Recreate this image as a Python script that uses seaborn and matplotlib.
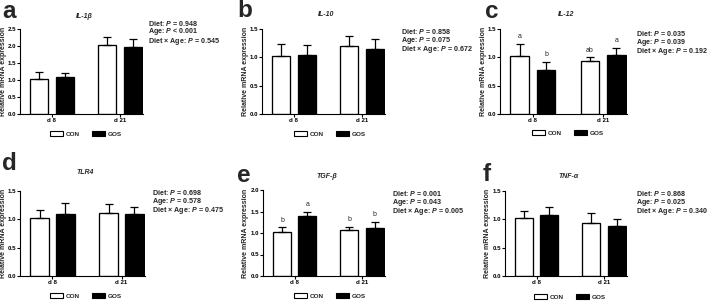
import matplotlib
matplotlib.use('Agg')
import matplotlib.pyplot as plt
import seaborn as sns
import pandas as pd
from matplotlib.patches import Patch

sns.set_theme(style='ticks')
plt.rcParams['font.family'] = ['Liberation Sans', 'DejaVu Sans']
plt.rcParams['font.weight'] = 'bold'
plt.rcParams['mathtext.fontset'] = 'custom'
plt.rcParams['mathtext.it'] = 'Liberation Sans:italic:bold'
plt.rcParams['mathtext.rm'] = 'Liberation Sans:bold'
plt.rcParams['mathtext.bf'] = 'Liberation Sans:bold'

# ---------------- data ----------------
panel_letters = ['a', 'b', 'c', 'd', 'e', 'f']
genes = ['IL-1β', 'IL-10', 'IL-12', 'TLR4', 'TGF-β', 'TNF-α']
ages = ['d 8', 'd 21']
diets = ['CON', 'GOS']
con_mean = [[1.02, 2.02], [1.02, 1.195], [1.03, 0.94], [1.02, 1.11], [1.02, 1.06], [1.02, 0.93]]
gos_mean = [[1.08, 1.97], [1.04, 1.15], [0.78, 1.04], [1.10, 1.09], [1.39, 1.11], [1.08, 0.88]]
con_sem = [[0.21, 0.25], [0.22, 0.185], [0.20, 0.06], [0.15, 0.16], [0.11, 0.09], [0.13, 0.18]]
gos_sem = [[0.12, 0.25], [0.17, 0.18], [0.14, 0.13], [0.18, 0.13], [0.11, 0.15], [0.13, 0.13]]
con_letters = [None, None, ['a', 'ab'], None, ['b', 'b'], None]
gos_letters = [None, None, ['b', 'a'], None, ['a', 'b'], None]
diet_p = ['= 0.948', '= 0.858', '= 0.035', '= 0.698', '= 0.001', '= 0.868']
age_p = ['< 0.001', '= 0.075', '= 0.039', '= 0.578', '= 0.043', '= 0.025']
inter_p = ['= 0.545', '= 0.672', '= 0.192', '= 0.475', '= 0.005', '= 0.340']
y_max = [2.5, 1.5, 1.5, 1.5, 2.0, 1.5]

# ---------------- layout (pixels) ----------------
W, H = 709, 301
boxes = [(20, 143, 29, 114), (262, 385, 29, 114), (500, 627, 29, 114),
         (20, 145, 191, 276), (263, 385, 190, 276), (505, 627, 191, 276)]
ylabel_x = [3.5, 245.5, 483.0, 3.5, 245.5, 487.5]
letter_pos = [(2, 18), (237, 17), (485, 18), (2, 170), (237, 182), (483, 181)]
title_y = [16, 15, 15, 173, 177, 177]
stats_pos = [(148, 22.5), (401, 31), (636, 33), (152, 192), (392, 193), (636, 193)]
legend_pos = [(86, 134), (330, 134), (568, 133), (86, 296), (330, 296), (570, 297)]

fig = plt.figure(figsize=(W / 100, H / 100), dpi=100)
fig.patch.set_facecolor('white')

def fx(px):
    return px / W

def fy(py):
    return 1 - py / H

for i in range(6):
    l, r, t, b = boxes[i]
    ax = fig.add_axes([fx(l), fy(b), (r - l) / W, (b - t) / H])
    df = pd.DataFrame({
        'age': ages * 2,
        'diet': [diets[0]] * 2 + [diets[1]] * 2,
        'val': con_mean[i] + gos_mean[i],
    })
    sns.barplot(data=df, x='age', y='val', hue='diet', order=ages, hue_order=diets,
                palette={'CON': 'white', 'GOS': 'black'}, edgecolor='black',
                linewidth=0.95, width=0.75, gap=0.29, errorbar=None, legend=False,
                ax=ax)
    sems = [con_sem[i], gos_sem[i]]
    lets = [con_letters[i], gos_letters[i]]
    bar_conts = list(ax.containers)
    for h, cont in enumerate(bar_conts):
        for j, p in enumerate(cont.patches):
            x = p.get_x() + p.get_width() / 2
            y = p.get_height()
            ax.errorbar(x, y, yerr=[[0], [sems[h][j]]], fmt='none', ecolor='black',
                        elinewidth=0.9, capsize=2.9, capthick=0.9, zorder=1)
            if lets[h] is not None:
                ax.text(x, y + sems[h][j] + y_max[i] * 0.045, lets[h][j],
                        ha='center', va='bottom', fontsize=5, fontweight='normal')
    ax.set_xlim(-0.47, 1.34)
    ax.set_ylim(0, y_max[i])
    ax.set_yticks([k * 0.5 for k in range(int(round(y_max[i] / 0.5)) + 1)])
    ax.set_yticklabels([f'{k * 0.5:.1f}' for k in range(int(round(y_max[i] / 0.5)) + 1)])
    ax.set_xlabel('')
    ax.set_ylabel('Relative mRNA expression', fontsize=5, fontweight='bold')
    ax.yaxis.set_label_coords(fx(ylabel_x[i]), fy((t + b) / 2), transform=fig.transFigure)
    ax.yaxis.label.set_verticalalignment('center')
    for s in ['top', 'right']:
        ax.spines[s].set_visible(False)
    for s in ['left', 'bottom']:
        ax.spines[s].set_linewidth(0.8)
        ax.spines[s].set_color('black')
    ax.tick_params(axis='both', direction='out', length=2, width=0.8, pad=1,
                   labelsize=4.4, colors='black')
    for lab in ax.get_xticklabels() + ax.get_yticklabels():
        lab.set_fontweight('bold')
    ax.set_facecolor('white')

    # title
    fig.text(fx((l + r) / 2 + 3), fy(title_y[i]), genes[i], ha='center', va='center',
             fontsize=5, fontstyle='italic', fontweight='bold')
    # panel letter
    fig.text(fx(letter_pos[i][0]), fy(letter_pos[i][1]), panel_letters[i],
             ha='left', va='baseline', fontsize=17.5, fontweight='bold')
    # stats
    sx, sy = stats_pos[i]
    stats_text = '\n'.join([f'Diet: $P$ {diet_p[i]}', f'Age: $P$ {age_p[i]}',
                            f'Diet × Age: $P$ {inter_p[i]}'])
    fig.text(fx(sx), fy(sy - 4), stats_text, ha='left', va='top',
             fontsize=5.1, fontweight='bold', linespacing=0.82)
    # legend
    handles = [Patch(facecolor='white', edgecolor='black', linewidth=0.8, label='CON'),
               Patch(facecolor='black', edgecolor='black', linewidth=0.8, label='GOS')]
    lx, ly = legend_pos[i]
    leg = ax.legend(handles=handles, loc='center', bbox_to_anchor=(fx(lx), fy(ly)),
                    bbox_transform=fig.transFigure, ncol=2, frameon=False,
                    fontsize=4.6, handlelength=2.0, handleheight=0.8,
                    handletextpad=0.5, columnspacing=1.9, borderpad=0,
                    borderaxespad=0)
    for tx in leg.get_texts():
        tx.set_fontweight('bold')

fig.savefig('out.png', dpi=100, facecolor='white')
